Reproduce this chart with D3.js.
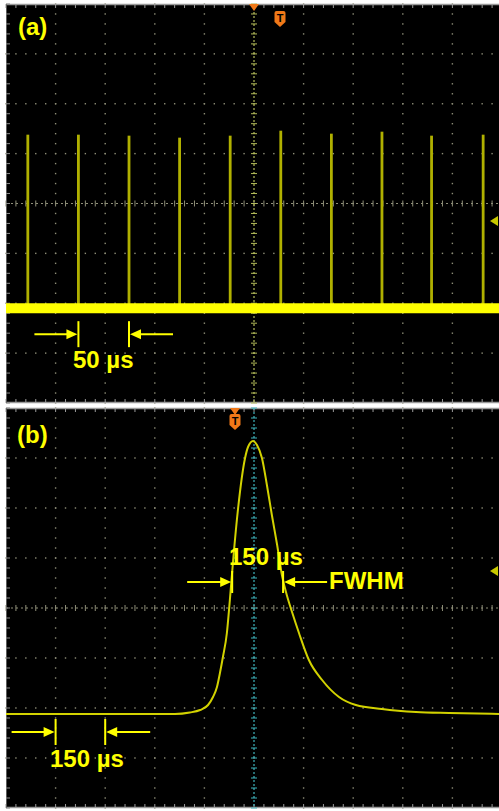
<!DOCTYPE html>
<html>
<head>
<meta charset="utf-8">
<script src="https://cdn.jsdelivr.net/npm/d3@7"></script>
<style>
  body { margin: 0; background: #fff; }
  svg { display: block; }
</style>
</head>
<body>
<div id="chart"></div>
<script>
// (a) pulse train, 50 us/div
const spikeTimesA = [-228, -177, -126, -75, -24, 27, 78, 129, 179, 231];
const spikeTopsA = [1.38, 1.38, 1.36, 1.32, 1.36, 1.46, 1.40, 1.44, 1.36, 1.38];
const baselineA = -2.1;

// (b) single pulse, 150 us/div
const pulseTimesB = [-750, -466, -239, -194, -163, -139, -124, -112, -103, -94, -82, -73, -63, -48, -27, -18, -3,
  9, 24, 39, 54, 70, 85, 100, 115, 136, 166, 206, 257, 308, 387, 490, 590, 750];
const pulseValuesB = [-2.12, -2.12, -2.12, -2.09, -2.04, -1.94, -1.78, -1.58, -1.30, -0.98, -0.50, 0.16, 0.96, 2.0, 3.0, 3.22, 3.34,
  3.26, 3.0, 2.46, 1.86, 1.26, 0.64, 0.24, -0.08, -0.50, -1.04, -1.44, -1.78, -1.94, -2.02, -2.08, -2.10, -2.12];

const panelLabels = ['(a)', '(b)'];
const usPerDiv = [50, 150];

const W = 499, H = 811;
const svg = d3.select('#chart').append('svg').attr('width', W).attr('height', H);

const yellow = '#ffff00';
const orange = '#f07818';

const defs = svg.append('defs');
const fuzz = defs.append('filter').attr('id', 'fuzz')
  .attr('x', '-5%').attr('y', '-100%').attr('width', '110%').attr('height', '300%');
fuzz.append('feTurbulence').attr('type', 'fractalNoise').attr('baseFrequency', '0.9 0.35')
  .attr('numOctaves', 2).attr('seed', 3).attr('result', 'noise');
fuzz.append('feDisplacementMap').attr('in', 'SourceGraphic').attr('in2', 'noise')
  .attr('scale', 7).attr('xChannelSelector', 'R').attr('yChannelSelector', 'G');

function makePanel(top, bottom, perDiv) {
  const x = d3.scaleLinear().domain([-5 * perDiv, 5 * perDiv]).range([6, 502]);
  const y = d3.scaleLinear().domain([-4, 4]).range([bottom, top]);
  return { x, y, perDiv };
}

function drawGrid(g, p, centerColor) {
  const { x, y, perDiv } = p;
  const [x0, x1] = x.range();
  const [y1, y0] = y.range();
  g.append('rect').attr('x', x0).attr('y', y0).attr('width', x1 - x0).attr('height', y1 - y0).attr('fill', '#000');

  const xMinor = d3.range(-25, 26).map(i => x(i * perDiv / 5));
  const yMinor = d3.range(-20, 21).map(i => y(i / 5));
  const dotColor = '#8e8e78';

  // dotted major lines
  d3.range(-4, 5).filter(i => i !== 0).forEach(i => {
    const xx = x(i * perDiv);
    g.selectAll(null).data(yMinor).enter().append('rect')
      .attr('x', xx - 0.7).attr('y', d => d - 0.7).attr('width', 1.4).attr('height', 1.4).attr('fill', dotColor);
  });
  d3.range(-3, 4).filter(i => i !== 0).forEach(i => {
    const yy = y(i);
    g.selectAll(null).data(xMinor).enter().append('rect')
      .attr('x', d => d - 0.7).attr('y', yy - 0.7).attr('width', 1.4).attr('height', 1.4).attr('fill', dotColor);
  });

  // center horizontal with ticks
  const cy = y(0);
  g.selectAll(null).data(xMinor).enter().append('line')
    .attr('x1', d => d).attr('x2', d => d).attr('y1', cy - 3).attr('y2', cy + 3)
    .attr('stroke', dotColor).attr('stroke-width', 1);
  g.append('line').attr('x1', x0).attr('x2', x1).attr('y1', cy).attr('y2', cy)
    .attr('stroke', dotColor).attr('stroke-width', 1).attr('stroke-dasharray', '2,3');

  // top / bottom edge ticks
  [y0, y1].forEach(yy => {
    const off = yy === y0 ? 0.5 : -0.5;
    g.append('line').attr('x1', x0).attr('x2', x1).attr('y1', yy + off).attr('y2', yy + off)
      .attr('stroke', '#9a9a9a').attr('stroke-width', 1.5);
    g.selectAll(null).data(xMinor).enter().append('line')
      .attr('x1', d => d).attr('x2', d => d)
      .attr('y1', yy).attr('y2', yy === y0 ? yy + 4 : yy - 4)
      .attr('stroke', '#9a9a9a').attr('stroke-width', 1);
  });
  g.append('line').attr('x1', x0 + 0.5).attr('x2', x0 + 0.5).attr('y1', y0).attr('y2', y1)
    .attr('stroke', '#5a5a5a').attr('stroke-width', 1);
  g.selectAll(null).data(yMinor).enter().append('line')
    .attr('x1', x0).attr('x2', x0 + 4).attr('y1', d => d).attr('y2', d => d)
    .attr('stroke', '#8a8a8a').attr('stroke-width', 1);

  // center vertical (trigger position) line
  const cx = x(0);
  g.append('line').attr('x1', cx).attr('x2', cx).attr('y1', y0).attr('y2', y1)
    .attr('stroke', centerColor).attr('stroke-width', 1.2).attr('stroke-dasharray', '2,2');
  g.selectAll(null).data(yMinor).enter().append('line')
    .attr('x1', cx - 3).attr('x2', cx + 3).attr('y1', d => d).attr('y2', d => d)
    .attr('stroke', centerColor).attr('stroke-width', 1);
}

function drawTrigger(g, p, markX, badgeX, badgeY) {
  const top = p.y.range()[1];
  g.append('path').attr('d', `M${markX - 5},${top} L${markX + 5},${top} L${markX},${top + 7} Z`).attr('fill', orange);
  const w = 11, h = 16;
  g.append('path')
    .attr('d', `M${badgeX - w / 2 + 2},${badgeY} H${badgeX + w / 2 - 2} Q${badgeX + w / 2},${badgeY} ${badgeX + w / 2},${badgeY + 2}
      V${badgeY + h - 5} L${badgeX},${badgeY + h} L${badgeX - w / 2},${badgeY + h - 5} V${badgeY + 2} Q${badgeX - w / 2},${badgeY} ${badgeX - w / 2 + 2},${badgeY} Z`)
    .attr('fill', orange);
  g.append('text').attr('x', badgeX).attr('y', badgeY + 11).attr('text-anchor', 'middle')
    .attr('font-family', 'Liberation Sans, Arial, sans-serif').attr('font-weight', 'bold').attr('font-size', 11)
    .attr('fill', '#000').text('T');
}

function drawLevelMarker(g, yy) {
  g.append('path').attr('d', `M490,${yy} L498,${yy - 5} L498,${yy + 5} Z`).attr('fill', '#c8c800');
}

function arrowPair(g, xl, xr, yy, lenL, lenR, halfH) {
  const c = yellow;
  [[xl, -lenL], [xr, lenR]].forEach(([xx, len]) => {
    g.append('line').attr('x1', xx).attr('x2', xx).attr('y1', yy - halfH).attr('y2', yy + halfH)
      .attr('stroke', c).attr('stroke-width', 2);
    const dir = len < 0 ? 1 : -1;
    g.append('line').attr('x1', xx + len).attr('x2', xx - dir * 10).attr('y1', yy).attr('y2', yy)
      .attr('stroke', c).attr('stroke-width', 2);
    g.append('path').attr('d', `M${xx - dir * 1},${yy} L${xx - dir * 12},${yy - 5} L${xx - dir * 12},${yy + 5} Z`).attr('fill', c);
  });
}

function label(g, txt, xx, yy) {
  g.append('text').attr('x', xx).attr('y', yy)
    .attr('font-family', 'Liberation Sans, Arial, sans-serif').attr('font-weight', 'bold').attr('font-size', 24)
    .attr('fill', yellow).text(txt);
}

// ---------- panel (a) ----------
const pa = makePanel(4, 403, usPerDiv[0]);
const ga = svg.append('g');
drawGrid(ga, pa, '#b4bc5a');

ga.selectAll('.spike').data(spikeTimesA).enter().append('line')
  .attr('class', 'spike')
  .attr('x1', d => pa.x(d)).attr('x2', d => pa.x(d))
  .attr('y1', pa.y(baselineA)).attr('y2', (d, i) => pa.y(spikeTopsA[i]))
  .attr('stroke', '#b0b000').attr('stroke-width', 2.8);

const bandY = pa.y(baselineA);
ga.append('line').attr('x1', pa.x.range()[0] + 1).attr('x2', W + 4).attr('y1', bandY).attr('y2', bandY)
  .attr('stroke', '#e6e600').attr('stroke-width', 15).attr('filter', 'url(#fuzz)');
ga.append('line').attr('x1', pa.x.range()[0]).attr('x2', W).attr('y1', bandY).attr('y2', bandY)
  .attr('stroke', yellow).attr('stroke-width', 10);

drawTrigger(ga, pa, pa.x(0), 280, 11);
drawLevelMarker(ga, 221);

label(ga, panelLabels[0], 18, 35);
arrowPair(ga, pa.x(spikeTimesA[1]), pa.x(spikeTimesA[2]), pa.y(-2.62), 44, 44, 13);
label(ga, usPerDiv[0] + ' \u00b5s', 73, 368);

// ---------- panel (b) ----------
const pb = makePanel(408, 808, usPerDiv[1]);
const gb = svg.append('g');
drawGrid(gb, pb, '#3fb4bc');

const pulse = d3.line()
  .x((d, i) => pb.x(pulseTimesB[i]))
  .y(d => pb.y(d))
  .curve(d3.curveMonotoneX);
gb.append('path').datum(pulseValuesB).attr('d', pulse)
  .attr('fill', 'none').attr('stroke', '#d2d200').attr('stroke-width', 2);

drawTrigger(gb, pb, 235, 235, 414);
drawLevelMarker(gb, 571);

label(gb, panelLabels[1], 17, 443);
arrowPair(gb, pb.x(-66), pb.x(88), 582, 45, 44, 11);
label(gb, usPerDiv[1] + ' \u00b5s', 229, 565);
label(gb, 'FWHM', 329, 589);
arrowPair(gb, pb.x(-600), pb.x(-450), 732, 44, 45, 13);
label(gb, usPerDiv[1] + ' \u00b5s', 50, 767);
</script>
</body>
</html>
